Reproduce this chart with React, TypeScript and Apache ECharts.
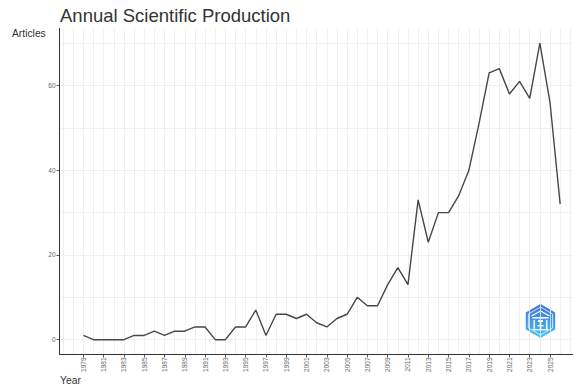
import React, { useEffect, useRef } from "react";
import * as echarts from "echarts";

// Articles published per year
const years: number[] = [
  1979, 1980, 1981, 1982, 1983, 1984, 1985, 1986, 1987, 1988, 1989, 1990,
  1991, 1992, 1993, 1994, 1995, 1996, 1997, 1998, 1999, 2000, 2001, 2002,
  2003, 2004, 2005, 2006, 2007, 2008, 2009, 2010, 2011, 2012, 2013, 2014,
  2015, 2016, 2017, 2018, 2019, 2020, 2021, 2022, 2023, 2024, 2025, 2026,
];
const articles: number[] = [
  1, 0, 0, 0, 0, 1, 1, 2, 1, 2, 2, 3,
  3, 0, 0, 3, 3, 7, 1, 6, 6, 5, 6, 4,
  3, 5, 6, 10, 8, 8, 13, 17, 13, 33, 23, 30,
  30, 34, 40, 51, 63, 64, 58, 61, 57, 70, 56, 32,
];

// Axis ticks, labels and grid positions
const yearLabels: number[] = [
  1979, 1981, 1983, 1985, 1987, 1989, 1991, 1993, 1995, 1997, 1999, 2001,
  2003, 2005, 2007, 2009, 2011, 2013, 2015, 2017, 2019, 2021, 2023, 2025,
];
const yearGrid: number[] = [
  1977, 1978, 1979, 1980, 1981, 1982, 1983, 1984, 1985, 1986, 1987, 1988,
  1989, 1990, 1991, 1992, 1993, 1994, 1995, 1996, 1997, 1998, 1999, 2000,
  2001, 2002, 2003, 2004, 2005, 2006, 2007, 2008, 2009, 2010, 2011, 2012,
  2013, 2014, 2015, 2016, 2017, 2018, 2019, 2020, 2021, 2022, 2023, 2024,
  2025, 2026, 2027, 2028,
];
const countLabels: number[] = [0, 20, 40, 60];
const countGrid: number[] = [0, 10, 20, 30, 40, 50, 60, 70];

const FONT = "'Liberation Sans', Arial, Helvetica, sans-serif";

// The panel runs a little past the right edge of the visible frame
const FRAME_W = 573;
const FRAME_H = 387;
const CHART_W = 584;

export default function App() {
  const ref = useRef<HTMLDivElement>(null);

  useEffect(() => {
    if (!ref.current) return;
    const chart = echarts.init(ref.current, null, { renderer: "svg" });

    // padded ranges around the data extent
    const xMin = 1976.65;
    const xMax = 2028.35;
    const yMin = -3.5;
    const yMax = 73.5;

    const hex = (r: number) => {
      const pts: number[][] = [];
      for (let i = 0; i < 6; i++) {
        const a = -Math.PI / 2 + (i * Math.PI) / 3;
        pts.push([r * Math.cos(a), r * Math.sin(a)]);
      }
      return pts;
    };

    chart.setOption({
      animation: false,
      backgroundColor: "#ffffff",
      grid: { left: 59.5, right: 0, top: 28.4, bottom: FRAME_H - 354.5, containLabel: false },
      xAxis: [
        {
          type: "value",
          min: xMin,
          max: xMax,
          position: "bottom",
          axisLine: { show: true, onZero: false, lineStyle: { color: "#333333", width: 1 } },
          axisTick: { show: true, customValues: yearLabels, length: 3, lineStyle: { color: "#333333", width: 0.8 } },
          axisLabel: {
            show: true,
            customValues: yearLabels,
            rotate: 90,
            fontSize: 6.5,
            color: "#666666",
            fontFamily: FONT,
            margin: 3,
            formatter: (v: number) => String(v),
          },
          splitLine: { show: false },
        },
        {
          type: "value",
          min: xMin,
          max: xMax,
          position: "bottom",
          axisLine: { show: false },
          axisTick: { show: false, customValues: yearGrid },
          axisLabel: { show: false },
          splitLine: { show: true, lineStyle: { color: "#ececec", width: 0.8 } },
        },
      ],
      yAxis: [
        {
          type: "value",
          min: yMin,
          max: yMax,
          axisLine: { show: true, onZero: false, lineStyle: { color: "#333333", width: 1 } },
          axisTick: { show: true, customValues: countLabels, length: 3, lineStyle: { color: "#333333", width: 0.8 } },
          axisLabel: {
            show: true,
            customValues: countLabels,
            fontSize: 6.5,
            color: "#666666",
            fontFamily: FONT,
            margin: 4,
          },
          splitLine: { show: false },
        },
        {
          type: "value",
          min: yMin,
          max: yMax,
          axisLine: { show: false },
          axisTick: { show: false, customValues: countGrid },
          axisLabel: { show: false },
          splitLine: { show: true, lineStyle: { color: "#ededed", width: 0.8 } },
        },
      ],
      series: [
        {
          type: "line",
          xAxisIndex: 0,
          yAxisIndex: 0,
          data: years.map((y, i) => [y, articles[i]]),
          showSymbol: false,
          lineStyle: { color: "#474747", width: 1.4 },
          z: 5,
        },
      ],
      graphic: [
        {
          type: "text",
          x: 60,
          y: 15.2,
          style: {
            text: "Annual Scientific Production",
            font: `18.5px ${FONT}`,
            fill: "#333333",
            verticalAlign: "middle",
            align: "left",
          },
        },
        {
          type: "text",
          x: 12,
          y: 33.1,
          style: { text: "Articles", font: `10.3px ${FONT}`, fill: "#333333", verticalAlign: "middle", align: "left" },
        },
        {
          type: "text",
          x: 60,
          y: 380.7,
          style: { text: "Year", font: `10.3px ${FONT}`, fill: "#333333", verticalAlign: "middle", align: "left" },
        },
        {
          type: "group",
          x: 540.5,
          y: 321,
          z: 10,
          children: [
            {
              type: "polygon",
              shape: { points: hex(17) },
              style: {
                fill: new echarts.graphic.LinearGradient(0, 0, 0, 1, [
                  { offset: 0, color: "#3f6fd9" },
                  { offset: 1, color: "#45c3f6" },
                ]),
              },
            },
            {
              type: "polygon",
              shape: { points: hex(14) },
              style: { fill: "none", stroke: "#ffffff", lineWidth: 0.9, opacity: 0.85 },
            },
            {
              type: "polyline",
              shape: { points: [[-9, -5], [0, -10], [9, -5]] },
              style: { stroke: "#ffffff", lineWidth: 1.2, fill: "none" },
            },
            { type: "rect", shape: { x: -8, y: -4, width: 16, height: 1.6 }, style: { fill: "#ffffff" } },
            { type: "rect", shape: { x: -7, y: -1, width: 1.4, height: 9 }, style: { fill: "#ffffff" } },
            { type: "rect", shape: { x: -2.5, y: -1, width: 5, height: 2 }, style: { fill: "#ffffff" } },
            { type: "rect", shape: { x: -0.8, y: 1, width: 1.6, height: 7 }, style: { fill: "#ffffff" } },
            { type: "rect", shape: { x: -3, y: 4, width: 6, height: 1.4 }, style: { fill: "#ffffff" } },
            { type: "rect", shape: { x: 5.6, y: -1, width: 1.4, height: 9 }, style: { fill: "#ffffff" } },
            { type: "rect", shape: { x: -8, y: 8, width: 16, height: 1.4 }, style: { fill: "#ffffff" } },
          ],
        },
      ],
    });

    return () => chart.dispose();
  }, []);

  return (
    <div
      style={{
        position: "absolute",
        left: 0,
        top: 0,
        width: FRAME_W,
        height: FRAME_H,
        overflow: "hidden",
        background: "#ffffff",
      }}
    >
      <div ref={ref} style={{ width: CHART_W, height: FRAME_H }} />
    </div>
  );
}
